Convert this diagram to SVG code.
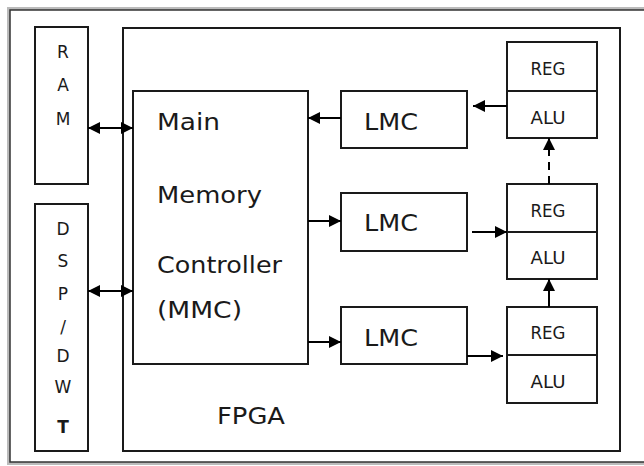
<svg xmlns="http://www.w3.org/2000/svg" width="644" height="466" viewBox="0 0 644 466">
<style>
.box{fill:#fff;stroke:#1a1a1a;stroke-width:2}
.t{font-family:"DejaVu Sans","Liberation Sans",sans-serif;fill:#1a1a1a}
.big{font-size:23px}
.sm{font-size:17px;text-anchor:middle}
.col{font-size:17px;text-anchor:middle}
.c{stroke:#000;stroke-width:2;fill:none}
</style>
<defs>
<marker id="ah" viewBox="0 0 12 12" refX="12" refY="6" markerWidth="12" markerHeight="12" markerUnits="userSpaceOnUse" orient="auto-start-reverse">
<path d="M0,0 L12,6 L0,12 z" fill="#000"/>
</marker>
</defs>
<rect x="0" y="0" width="644" height="466" fill="#fff"/>
<g id="frame">
<rect x="8.5" y="8.5" width="640" height="455" fill="none" stroke="#bbb" stroke-width="3"/>
<rect x="10" y="10" width="640" height="452" fill="none" stroke="#333" stroke-width="1.5"/>
</g>
<g id="fpga">
<rect class="box" x="123" y="28" width="497" height="423"/>
<text class="t big" x="217" y="424" textLength="68" lengthAdjust="spacingAndGlyphs">FPGA</text>
</g>
<g id="ram">
<rect class="box" x="35" y="27" width="53" height="157"/>
<text class="t col" x="63" y="58">R</text>
<text class="t col" x="63" y="91">A</text>
<text class="t col" x="63" y="125">M</text>
</g>
<g id="dsp">
<rect class="box" x="35" y="204" width="53" height="247"/>
<text class="t col" x="63" y="235">D</text>
<text class="t col" x="63" y="267">S</text>
<text class="t col" x="63" y="300">P</text>
<text class="t col" x="63" y="333">/</text>
<text class="t col" x="63" y="362">D</text>
<text class="t col" x="63" y="393">W</text>
<text class="t col" x="63" y="433" font-weight="bold" font-size="20">T</text>
</g>
<g id="mmc">
<rect class="box" x="133" y="91" width="175" height="273"/>
<text class="t big" x="157" y="130" textLength="63" lengthAdjust="spacingAndGlyphs">Main</text>
<text class="t big" x="157" y="203" textLength="105" lengthAdjust="spacingAndGlyphs">Memory</text>
<text class="t big" x="157" y="273" textLength="125" lengthAdjust="spacingAndGlyphs">Controller</text>
<text class="t big" x="157" y="318" textLength="85" lengthAdjust="spacingAndGlyphs">(MMC)</text>
</g>
<g id="lmc1">
<rect class="box" x="341" y="91" width="126" height="57"/>
<text class="t big" x="364" y="130" textLength="54" lengthAdjust="spacingAndGlyphs">LMC</text>
</g>
<g id="lmc2">
<rect class="box" x="341" y="193" width="126" height="58"/>
<text class="t big" x="364" y="231" textLength="54" lengthAdjust="spacingAndGlyphs">LMC</text>
</g>
<g id="lmc3">
<rect class="box" x="341" y="307" width="126" height="57"/>
<text class="t big" x="364" y="346" textLength="54" lengthAdjust="spacingAndGlyphs">LMC</text>
</g>
<g id="pe1">
<rect class="box" x="507" y="42" width="90" height="49"/>
<rect class="box" x="507" y="91" width="90" height="47"/>
<text class="t sm" x="548" y="75" textLength="35" lengthAdjust="spacingAndGlyphs">REG</text>
<text class="t sm" x="548" y="124" textLength="35" lengthAdjust="spacingAndGlyphs">ALU</text>
</g>
<g id="pe2">
<rect class="box" x="507" y="184" width="90" height="48"/>
<rect class="box" x="507" y="232" width="90" height="47"/>
<text class="t sm" x="548" y="217" textLength="35" lengthAdjust="spacingAndGlyphs">REG</text>
<text class="t sm" x="548" y="264" textLength="35" lengthAdjust="spacingAndGlyphs">ALU</text>
</g>
<g id="pe3">
<rect class="box" x="507" y="307" width="90" height="48"/>
<rect class="box" x="507" y="355" width="90" height="48"/>
<text class="t sm" x="548" y="339" textLength="35" lengthAdjust="spacingAndGlyphs">REG</text>
<text class="t sm" x="548" y="388" textLength="35" lengthAdjust="spacingAndGlyphs">ALU</text>
</g>
<g id="connectors">
<line class="c" x1="88" y1="128" x2="133" y2="128" marker-start="url(#ah)" marker-end="url(#ah)"/>
<line class="c" x1="88" y1="291" x2="133" y2="291" marker-start="url(#ah)" marker-end="url(#ah)"/>
<line class="c" x1="507" y1="106" x2="473" y2="106" marker-end="url(#ah)"/>
<line class="c" x1="341" y1="118" x2="308" y2="118" marker-end="url(#ah)"/>
<line class="c" x1="308" y1="221" x2="341" y2="221" marker-end="url(#ah)"/>
<line class="c" x1="472" y1="232" x2="507" y2="232" marker-end="url(#ah)"/>
<line class="c" x1="308" y1="342" x2="341" y2="342" marker-end="url(#ah)"/>
<line class="c" x1="467" y1="356" x2="503" y2="356" marker-end="url(#ah)"/>
<line class="c" x1="549" y1="307" x2="549" y2="279" marker-end="url(#ah)"/>
<line class="c" x1="549" y1="184" x2="549" y2="138" stroke-dasharray="8,6" marker-end="url(#ah)"/>
</g>
</svg>
